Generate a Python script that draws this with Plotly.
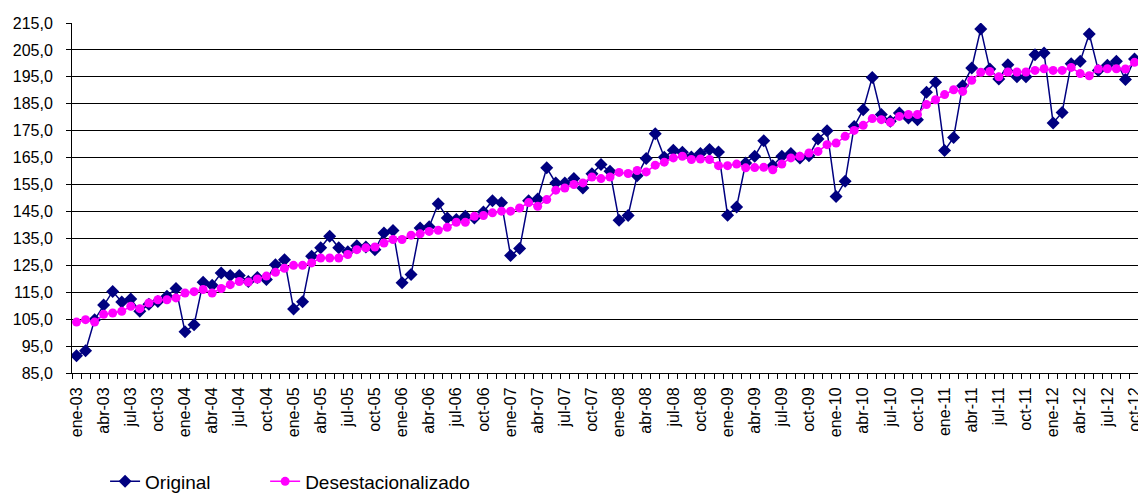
import plotly.graph_objects as go

meses = ["ene", "feb", "mar", "abr", "may", "jun", "jul", "ago", "sep", "oct", "nov", "dic"]
categorias = [f"{meses[m]}-{str(a)[2:]}" for a in range(2003, 2013) for m in range(12)][:118]

original = [
    91.4, 93.3, 104.8, 110.3, 115.3, 111.4, 112.5, 107.9, 110.5, 111.6, 113.5, 116.4,
    100.3, 102.9, 118.7, 117.6, 122.1, 121.2, 121.2, 119.0, 120.5, 119.7, 125.2, 127.1,
    108.8, 111.5, 128.4, 131.5, 135.8, 131.5, 130.0, 132.3, 131.8, 130.8, 137.0, 137.9,
    118.5, 121.6, 138.9, 139.3, 147.9, 142.6, 142.0, 143.2, 142.6, 144.8, 149.0, 148.2,
    128.6, 131.2, 149.0, 149.6, 161.2, 155.6, 155.6, 157.2, 153.7, 159.0, 162.4, 159.9,
    141.7, 143.5, 158.3, 164.7, 173.9, 165.1, 167.7, 167.0, 165.2, 166.5, 168.0, 167.1,
    143.6, 146.7, 163.0, 165.5, 171.3, 162.0, 165.5, 166.5, 164.9, 165.7, 171.9, 175.0,
    150.6, 156.2, 176.6, 182.8, 194.8, 181.0, 178.5, 181.6, 179.7, 179.1, 189.3, 193.0,
    167.6, 172.5, 191.7, 198.3, 212.8, 197.9, 194.2, 199.5, 195.0, 195.0, 203.2, 203.9,
    177.9, 181.8, 199.9, 200.8, 210.9, 197.4, 199.3, 200.8, 194.0, 201.6,
]

desestacionalizado = [
    103.9, 104.8, 103.9, 106.8, 107.3, 107.9, 109.8, 108.9, 111.0, 112.2, 112.2, 112.9,
    114.7, 115.2, 116.0, 114.7, 116.4, 117.8, 119.0, 118.8, 119.9, 121.0, 122.4, 123.9,
    125.0, 125.0, 125.9, 127.7, 127.7, 127.7, 129.0, 130.8, 131.5, 131.8, 133.3, 134.6,
    134.6, 136.2, 136.7, 137.6, 138.0, 139.1, 141.0, 141.0, 143.2, 143.5, 144.5, 145.1,
    145.1, 146.3, 148.3, 146.9, 149.4, 152.9, 153.7, 155.0, 155.6, 157.8, 157.2, 157.8,
    159.5, 159.1, 160.2, 159.7, 162.2, 163.3, 164.9, 165.5, 164.3, 164.5, 164.3, 162.0,
    162.0, 162.6, 161.2, 161.3, 161.4, 160.5, 162.6, 164.9, 165.5, 166.7, 167.3, 169.8,
    170.4, 172.9, 175.1, 177.0, 179.5, 179.1, 178.1, 180.3, 181.0, 181.0, 184.7, 186.5,
    188.4, 190.2, 189.6, 193.7, 196.7, 197.0, 195.0, 196.8, 196.8, 196.8, 197.4, 198.0,
    197.4, 197.4, 198.5, 196.2, 195.4, 197.9, 198.0, 198.0, 197.9, 200.4,
]

y_ticks = list(range(85, 216, 10))

x = list(range(len(categorias)))
font = "Liberation Sans, Arial, sans-serif"

fig = go.Figure()
fig.add_trace(go.Scatter(
    x=x, y=original, name="Original", mode="lines+markers",
    line=dict(color="#000080", width=1.5),
    marker=dict(symbol="diamond", size=10, color="#000080"),
    legend="legend",
))
fig.add_trace(go.Scatter(
    x=x, y=desestacionalizado, name="Desestacionalizado", mode="lines+markers",
    line=dict(color="#FF00FF", width=1.5),
    marker=dict(symbol="circle", size=9, color="#FF00FF"),
    legend="legend2",
))

legend_common = dict(
    orientation="h", yanchor="middle", y=-0.31, xanchor="left",
    font=dict(family=font, size=19, color="black"),
    bgcolor="rgba(0,0,0,0)",
)

# page body has an 8px margin, so the figure is sized to fit inside the window
fig.update_layout(
    width=1138, height=489,
    margin=dict(l=64, r=7, t=15, b=124, autoexpand=False),
    paper_bgcolor="white", plot_bgcolor="white",
    separators=",.",
    font=dict(family=font, size=16, color="black"),
    showlegend=True,
    legend=dict(x=0.031, **legend_common),
    legend2=dict(x=0.181, **legend_common),
)

fig.update_xaxes(
    range=[-0.5, len(categorias) - 0.5],
    tickmode="array",
    tickvals=x[::3], ticktext=categorias[::3],
    tickangle=-90, ticks="", showgrid=False, zeroline=False,
    showline=True, linecolor="black", linewidth=1,
    automargin=False,
    ticklabeloverflow="allow", ticklabelstandoff=7,
    tickfont=dict(family=font, size=16, color="black"),
    minor=dict(tickmode="array", tickvals=[i - 0.5 for i in range(len(categorias) + 1)],
               ticks="outside", ticklen=5, tickcolor="black", tickwidth=1, showgrid=False),
)
fig.update_yaxes(
    range=[85, 215],
    tickmode="array", tickvals=y_ticks,
    tickformat=".1f",
    ticks="outside", ticklen=5, tickcolor="black",
    showgrid=True, gridcolor="black", gridwidth=1,
    zeroline=False, ticklabelstandoff=10, automargin=False,
    showline=True, linecolor="black", linewidth=1, mirror=True,
    tickfont=dict(family=font, size=16, color="black"),
)

fig.write_html("out.html")
